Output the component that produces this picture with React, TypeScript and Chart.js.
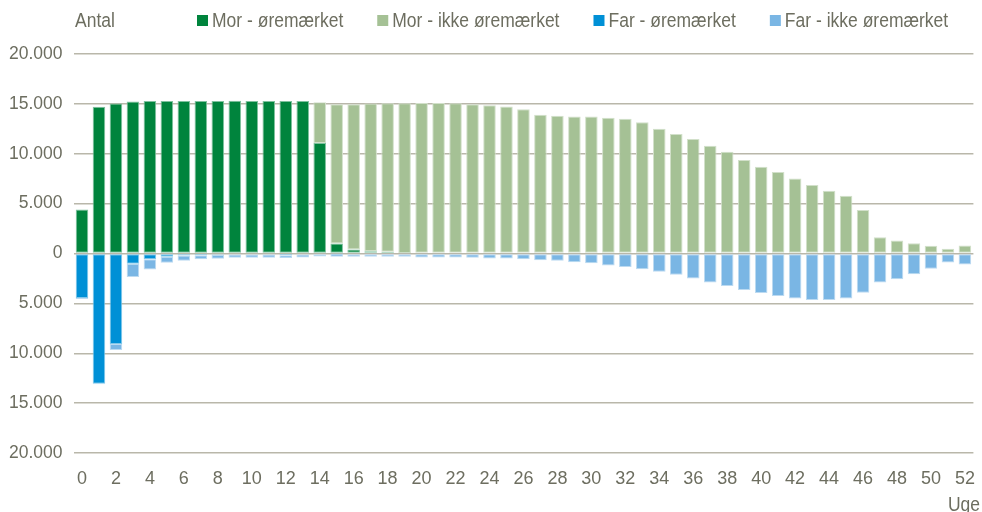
import React, { useEffect, useRef } from "react";
import { Chart, registerables } from "chart.js";

Chart.register(...registerables);

const weeks: string[] = Array.from({ length: 53 }, (_, i) => String(i));

const seriesLabels = [
  "Mor - øremærket",
  "Mor - ikke øremærket",
  "Far - øremærket",
  "Far - ikke øremærket",
];
const seriesColors = ["#00843d", "#a5c195", "#0090d6", "#7ab6e4"];

const morOremaerket = [
  4400, 14700, 15050, 15250, 15280, 15290, 15290, 15290, 15290, 15320, 15290,
  15290, 15290, 15290, 11070, 1000, 400, 230, 170, 50, 0, 0, 0, 0, 0, 0, 0, 0,
  0, 0, 0, 0, 0, 0, 0, 0, 0, 0, 0, 0, 0, 0, 0, 0, 0, 0, 0, 0, 0, 0, 0, 0, 0,
];
const morIkkeOremaerket = [
  0, 0, 0, 0, 0, 0, 0, 0, 0, 0, 0, 0, 0, 0, 4100, 13970, 14570, 14800, 14900,
  15020, 15100, 15100, 15070, 14970, 14870, 14730, 14470, 13900, 13800, 13730,
  13730, 13600, 13500, 13170, 12500, 11970, 11470, 10800, 10200, 9370, 8700,
  8170, 7530, 6870, 6300, 5800, 4370, 1630, 1300, 1030, 770, 470, 800,
];
const farOremaerket = [
  -4450, -13070, -9070, -1030, -570, -330, -200, -170, -130, -100, -100, -100,
  -170, -100, -70, -30, 0, 0, 0, 0, 0, 0, 0, 0, 0, 0, 0, 0, 0, 0, 0, 0, 0, 0,
  0, 0, 0, 0, 0, 0, 0, 0, 0, 0, 0, 0, 0, 0, 0, 0, 0, 0, 0,
];
const farIkkeOremaerket = [
  -100, -50, -600, -1330, -1030, -600, -530, -400, -400, -330, -330, -330,
  -270, -300, -230, -300, -330, -330, -330, -330, -400, -400, -400, -430, -500,
  -500, -570, -670, -730, -870, -980, -1200, -1350, -1570, -1830, -2130, -2500,
  -2900, -3270, -3670, -3970, -4270, -4500, -4670, -4670, -4500, -3930, -2900,
  -2570, -2070, -1530, -900, -1100,
];

const yTicks = [-20000, -15000, -10000, -5000, 0, 5000, 10000, 15000, 20000];

const FONT = "'Liberation Sans', Arial, sans-serif";
const TEXT = "#6d6e60";

function fmt(v: number): string {
  const a = Math.abs(v);
  return String(a).replace(/\B(?=(\d{3})+(?!\d))/g, ".");
}

function tallText(
  ctx: CanvasRenderingContext2D,
  text: string,
  x: number,
  y: number
) {
  ctx.save();
  ctx.translate(x, y);
  ctx.scale(1, 1.18);
  ctx.fillText(text, 0, 0);
  ctx.restore();
}

const textPlugin = {
  id: "textPlugin",
  afterDraw(chart: any) {
    const ctx = chart.ctx as CanvasRenderingContext2D;
    ctx.save();
    ctx.font = `17.5px ${FONT}`;
    ctx.fillStyle = TEXT;
    ctx.textBaseline = "middle";
    ctx.textAlign = "left";
    tallText(ctx, "Antal", 75, 21);
    let x = 197;
    chart.data.datasets.forEach((ds: any) => {
      ctx.fillStyle = ds.backgroundColor;
      ctx.fillRect(x, 15, 11, 11);
      ctx.fillStyle = TEXT;
      const tx = x + 15;
      tallText(ctx, ds.label, tx, 21);
      x = tx + ctx.measureText(ds.label).width + 34;
    });
    ctx.textAlign = "right";
    ctx.textBaseline = "alphabetic";
    tallText(ctx, "Uge", 980, 511);
    ctx.restore();
  },
};

export default function App() {
  const ref = useRef<HTMLCanvasElement | null>(null);
  useEffect(() => {
    document.body.style.margin = "0";
    if (!ref.current) return;
    const seriesData = [
      morOremaerket,
      morIkkeOremaerket,
      farOremaerket,
      farIkkeOremaerket,
    ];
    const borders = ["#7fc19e", "#d2e0ca", "#7fc7ea", "#bcdaf1"];
    const chart = new Chart(ref.current, {
      type: "bar",
      data: {
        labels: weeks,
        datasets: seriesData.map((d, i) => ({
          label: seriesLabels[i],
          data: d,
          backgroundColor: seriesColors[i],
          borderColor: borders[i],
          borderWidth: 1,
          borderSkipped: false,
          barPercentage: 0.74,
          categoryPercentage: 1,
        })),
      },
      options: {
        animation: false,
        responsive: false,
        devicePixelRatio: 1,
        layout: { padding: { top: 54, right: 7.5, left: 0, bottom: 0 } },
        plugins: {
          legend: { display: false },
          tooltip: { enabled: false },
        },
        scales: {
          x: {
            stacked: true,
            grid: { display: false },
            border: { display: false },
            ticks: {
              autoSkip: false,
              maxRotation: 0,
              padding: 7,
              color: TEXT,
              font: { family: FONT, size: 18 },
              callback: (_v: any, i: number) => (i % 2 === 0 ? weeks[i] : ""),
            },
            afterFit: (s: any) => {
              s.height = 59;
            },
          },
          y: {
            stacked: true,
            min: yTicks[0],
            max: yTicks[yTicks.length - 1],
            afterBuildTicks: (s: any) => {
              s.ticks = yTicks.map((v) => ({ value: v }));
            },
            grid: { color: "#b9b7aa", lineWidth: 1.5, drawTicks: false },
            border: { display: false },
            ticks: {
              padding: 11,
              color: TEXT,
              font: { family: FONT, size: 17.5 },
              callback: (v: any) => fmt(Number(v)),
            },
            afterFit: (s: any) => {
              s.width = 73.5;
            },
          },
        },
      },
      plugins: [textPlugin],
    });
    return () => chart.destroy();
  }, []);
  return (
    <div style={{ width: 982, height: 512, position: "relative" }}>
      <canvas ref={ref} width={982} height={512} style={{ display: "block" }} />
    </div>
  );
}
